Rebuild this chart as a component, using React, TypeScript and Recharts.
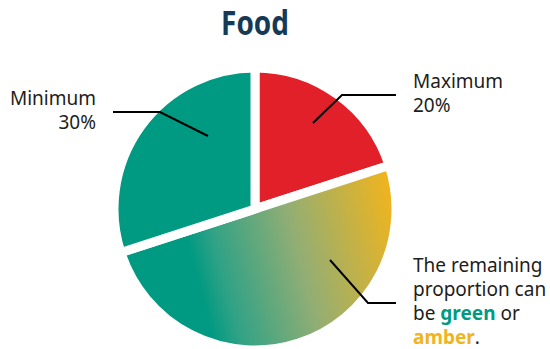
import { Cell, Pie, PieChart } from 'recharts'

const categories = ['Maximum', 'Remaining', 'Minimum']
const shares = [20, 50, 30]
const remainingText = ['The remaining', 'proportion can']

const RED = '#E1202A'
const GREEN = '#009A82'
const AMBER = '#F0B41E'
const INK = '#1d1d1b'
const sliceFills = [RED, 'url(#remainGrad)', GREEN]

// leader line points + text anchor, relative to the pie centre
const leaders = [
  { pts: [[58, -86], [87, -114], [141, -114]], tx: 158, ty: -121, anchor: 'start' },
  { pts: [[75, 51], [113, 94], [141, 94]], tx: 158, ty: 63, anchor: 'start' },
  { pts: [[-47, -73], [-95, -97], [-142, -97]], tx: -159, ty: -104, anchor: 'end' },
]

const textStyle = { fontFamily: '"Noto Sans", sans-serif', fontSize: 19, fill: INK }
const LINE = 24

function SliceLabel(props: any) {
  const { cx, cy, index } = props
  const l = leaders[index]
  const points = l.pts.map(([x, y]) => `${cx + x},${cy + y}`).join(' ')
  const x = cx + l.tx
  const y = cy + l.ty
  let lines
  if (categories[index] === 'Remaining') {
    lines = (
      <>
        {remainingText.map((t, i) => (
          <text key={t} x={x} y={y + i * LINE} textAnchor="start" style={textStyle}>
            {t}
          </text>
        ))}
        <text x={x} y={y + 2 * LINE} textAnchor="start" style={textStyle}>
          be <tspan fill={GREEN} fontWeight={700}>green</tspan> or
        </text>
        <text x={x} y={y + 3 * LINE} textAnchor="start" style={textStyle}>
          <tspan fill={AMBER} fontWeight={700}>amber</tspan>.
        </text>
      </>
    )
  } else {
    lines = [categories[index], `${shares[index]}%`].map((t, i) => (
      <text key={t} x={x} y={y + i * LINE} textAnchor={l.anchor as any} style={textStyle}>
        {t}
      </text>
    ))
  }
  return (
    <g>
      <polyline points={points} fill="none" stroke="#000" strokeWidth={2} />
      {lines}
    </g>
  )
}

export default function App() {
  const data = categories.map((name, i) => ({ name, value: shares[i] }))
  return (
    <div style={{ position: 'absolute', left: 0, top: 0, width: 550, height: 349, background: '#fff' }}>
      <div
        style={{
          position: 'absolute',
          left: 0,
          top: 5,
          width: 510,
          textAlign: 'center',
          fontFamily: '"Noto Sans", sans-serif',
          fontWeight: 700,
          fontSize: 34,
          lineHeight: '34px',
          color: '#163A55',
          transform: 'scaleX(0.82)',
          transformOrigin: '255px 0',
        }}
      >
        Food
      </div>
      <PieChart width={550} height={349} margin={{ top: 0, right: 0, bottom: 0, left: 0 }}>
        <defs>
          <linearGradient id="remainGrad" gradientUnits="userSpaceOnUse" x1={192} y1={258} x2={395} y2={205}>
            <stop offset="0" stopColor={GREEN} />
            <stop offset="0.12" stopColor="#2FA286" />
            <stop offset="0.5" stopColor="#92AE74" />
            <stop offset="1" stopColor={AMBER} />
          </linearGradient>
        </defs>
        <Pie
          data={data}
          dataKey="value"
          nameKey="name"
          cx={255}
          cy={209}
          outerRadius={141}
          startAngle={90}
          endAngle={-270}
          stroke="#fff"
          strokeWidth={9}
          label={SliceLabel}
          labelLine={false}
          isAnimationActive={false}
        >
          {data.map((d, i) => (
            <Cell key={d.name} fill={sliceFills[i]} stroke="#fff" strokeWidth={9} />
          ))}
        </Pie>
      </PieChart>
    </div>
  )
}
